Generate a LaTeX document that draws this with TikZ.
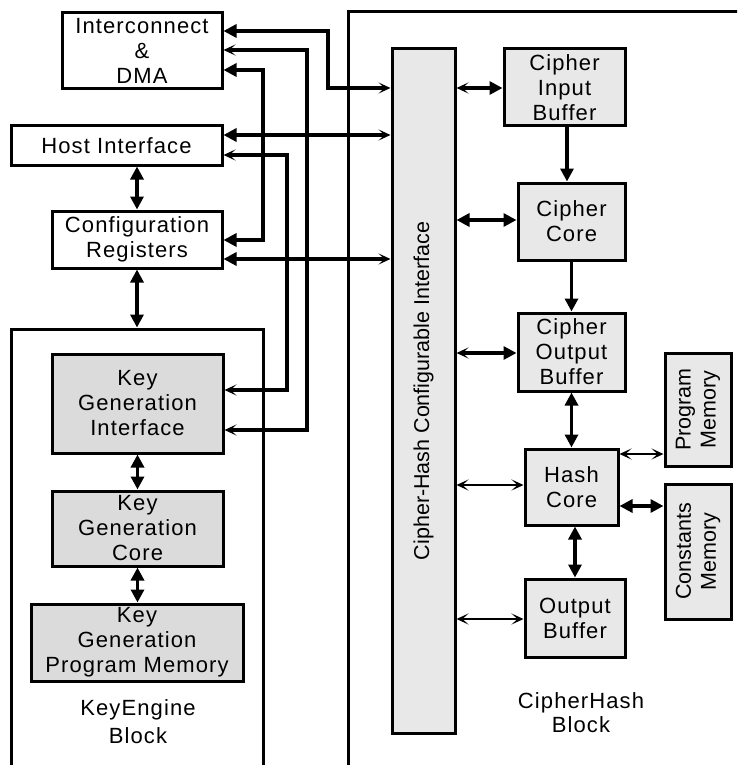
\documentclass[tikz,border=0pt]{standalone}
\usepackage{fontspec}
\setmainfont{Liberation Sans}[LetterSpace=5]
\newfontfamily\plainfont{Liberation Sans}
\usetikzlibrary{arrows.meta}
\definecolor{kgfill}{gray}{0.86}
\definecolor{chfill}{gray}{0.91}
\begin{document}
\begin{tikzpicture}[x=1pt,y=-1pt,
  box/.style={draw, line width=3pt, inner sep=0pt, align=center,
    font=\fontsize{22}{25}\selectfont},
  kgbox/.style={box, fill=kgfill},
  chbox/.style={box, fill=chfill},
  blk/.style={draw, line width=3pt, inner sep=0pt},
  lbl/.style={align=center, inner sep=0pt},
  rlbl/.style={align=center, inner sep=0pt, rotate=90,
    font=\plainfont\fontsize{21.5}{25}\selectfont},
  conn/.style={line width=3.2pt},
  fine/.style={line width=2.8pt},
  tk/.tip={Triangle[length=13pt,width=13pt]},
  tn/.tip={Stealth[length=12pt,width=11pt,inset=6pt]}]
\useasboundingbox (0,0) rectangle (737,765);
\clip (0,0) rectangle (737,765);

% outer blocks
\node[blk, minimum width=452pt, minimum height=788pt] (chb) at (574,406) {};
\node[blk, minimum width=252pt, minimum height=471pt] (keyeng) at (137,564.5) {};

% left boxes
\node[box, minimum width=160pt, minimum height=76pt] (icd) at (142,51) {Interconnect\\\&\\DMA};
\node[box, minimum width=211pt, minimum height=39pt] (host) at (116.5,145.5) {Host Interface};
\node[box, minimum width=170pt, minimum height=57pt] (cfg) at (137,239.5) {Configuration\\Registers};
\node[kgbox, minimum width=171pt, minimum height=99pt] (kgi) at (137.5,403.5) {Key\\Generation\\Interface};
\node[kgbox, minimum width=171pt, minimum height=75pt] (kgc) at (137.5,528.5) {Key\\Generation\\Core};
\node[kgbox, minimum width=212pt, minimum height=77pt] (kgpm) at (137,642.5) {Key\\Generation\\Program Memory};
\node[lbl, font=\fontsize{22}{28}\selectfont] (kelbl) at (138,722) {KeyEngine\\Block};

% right boxes
\node[chbox, minimum width=63pt, minimum height=684pt] (iface) at (423.5,391) {};
\node[rlbl] (ifacelbl) at (iface.center) {Cipher-Hash Configurable Interface};
\node[chbox, minimum width=121pt, minimum height=77pt] (cib) at (564.5,87.5) {Cipher\\Input\\Buffer};
\node[chbox, minimum width=107pt, minimum height=77pt] (cc) at (571.5,221.5) {Cipher\\Core};
\node[chbox, minimum width=107pt, minimum height=78pt] (cob) at (571.5,352) {Cipher\\Output\\Buffer};
\node[chbox, minimum width=93pt, minimum height=76pt] (hc) at (571.5,487) {Hash\\Core};
\node[chbox, minimum width=100pt, minimum height=78pt] (ob) at (575,618) {Output\\Buffer};
\node[chbox, minimum width=66pt, minimum height=113pt] (pm) at (698,409.5) {};
\node[rlbl] (pmlbl) at (pm.center) {Program\\Memory};
\node[chbox, minimum width=66pt, minimum height=135pt] (cm) at (698,551.5) {};
\node[rlbl] (cmlbl) at (cm.center) {Constants\\Memory};
\node[lbl, font=\fontsize{22}{24}\selectfont] (chlbl) at (581,713) {CipherHash\\Block};

% left connectors
\draw[conn, tk-tn] (icd.east |- 0,31) -| (328,88) -- (iface.west |- 0,88);
\draw[conn, tn-tn] (icd.east |- 0,50) -| (307,430) -- (kgi.east |- 0,430);
\draw[conn, tk-tk] (icd.east |- 0,70) -| (263,240) -- (cfg.east |- 0,240);
\draw[conn, tk-tn] (host.east |- 0,135) -- (iface.west |- 0,135);
\draw[conn, tn-tn] (host.east |- 0,155) -| (287,390) -- (kgi.east |- 0,390);
\draw[conn, tk-tn] (cfg.east |- 0,259) -- (iface.west |- 0,259);
\draw[conn, tk-tk] (host.south -| cfg.north) -- (cfg.north);
\draw[conn, tk-tk] (cfg.south) -- (keyeng.north -| cfg.south);
\draw[conn, tk-tk] (kgi.south) -- (kgc.north);
\draw[conn, tk-tk] (kgc.south) -- (kgpm.north -| kgc.south);

% right connectors
\draw[conn, tn-tk] (iface.east |- 0,88) -- (cib.west |- 0,88);
\draw[conn, tk-tk] (iface.east |- 0,220) -- (cc.west |- 0,220);
\draw[conn, tn-tk] (iface.east |- 0,353) -- (cob.west |- 0,353);
\draw[fine, tn-tn] (iface.east |- 0,485) -- (hc.west |- 0,485);
\draw[fine, tn-tn] (iface.east |- 0,619) -- (ob.west |- 0,619);
\draw[conn, -tk] (cib.south -| 567,0) -- (cc.north -| 567,0);
\draw[conn, -tk] (cc.south) -- (cob.north);
\draw[conn, tk-tk] (cob.south) -- (hc.north);
\draw[conn, tk-tk] (hc.south -| ob.north) -- (ob.north);
\draw[fine, tn-tn] (hc.east |- 0,454) -- (pm.west |- 0,454);
\draw[conn, tk-tk] (hc.east |- 0,506) -- (cm.west |- 0,506);
\end{tikzpicture}
\end{document}
